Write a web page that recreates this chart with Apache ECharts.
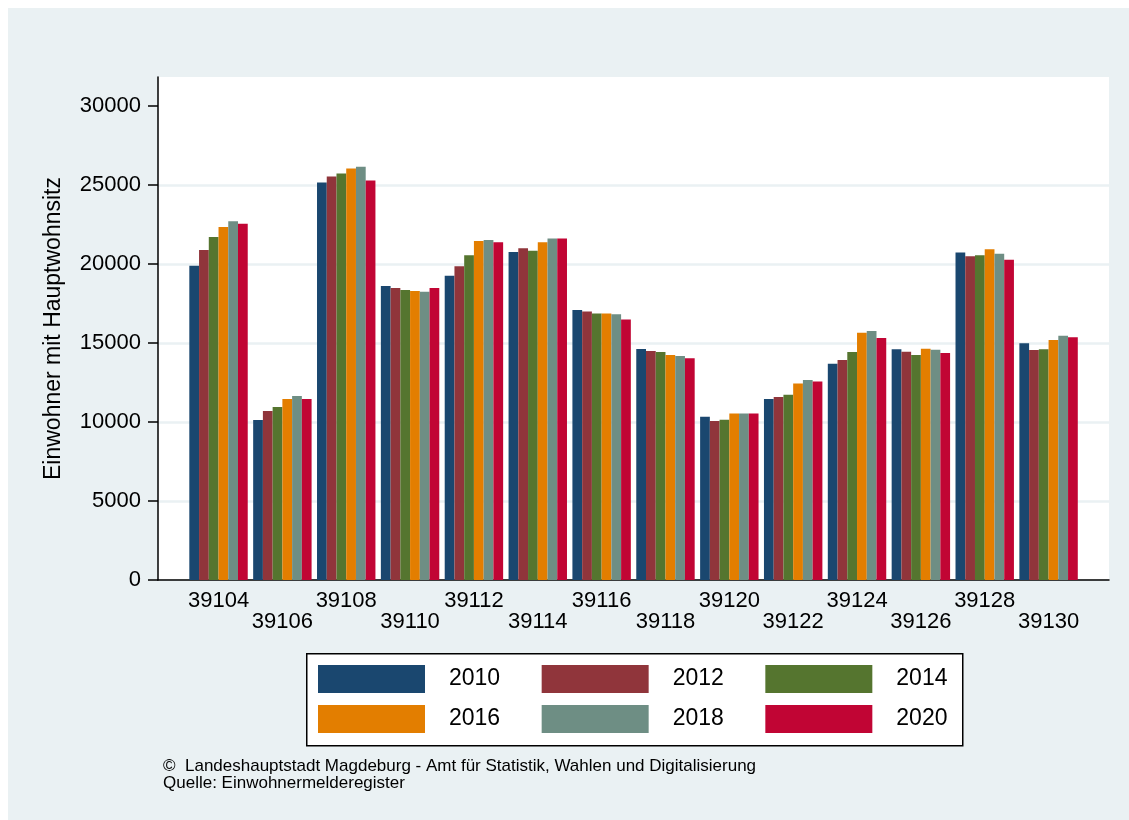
<!DOCTYPE html>
<html>
<head>
<meta charset="utf-8">
<script src="https://cdn.jsdelivr.net/npm/echarts@6/dist/echarts.min.js"></script>
<style>
  html, body { margin: 0; padding: 0; background: #fff; }
  #chart { width: 1129px; height: 820px; }
</style>
</head>
<body>
<div id="chart"></div>
<script>
// Postleitzahlen
const plz = ['39104', '39106', '39108', '39110', '39112', '39114', '39116',
  '39118', '39120', '39122', '39124', '39126', '39128', '39130']
const years = ['2010', '2012', '2014', '2016', '2018', '2020']
const yTicks = [0, 5000, 10000, 15000, 20000, 25000, 30000]

// Einwohner je Jahr
const v2010 = [19890, 10130, 25150, 18610, 19260, 20760, 17090, 14620, 10340, 11460, 13690, 14600, 20720, 14980]
const v2012 = [20890, 10700, 25530, 18480, 19850, 20990, 17000, 14490, 10060, 11580, 13920, 14450, 20490, 14560]
const v2014 = [21710, 10950, 25720, 18350, 20550, 20840, 16860, 14430, 10150, 11730, 14430, 14240, 20550, 14600]
const v2016 = [22340, 11460, 26040, 18290, 21460, 21370, 16860, 14240, 10530, 12430, 15650, 14640, 20930, 15190]
const v2018 = [22700, 11650, 26160, 18250, 21520, 21620, 16815, 14180, 10530, 12660, 15760, 14580, 20650, 15460]
const v2020 = [22550, 11460, 25280, 18480, 21370, 21620, 16480, 14030, 10530, 12570, 15320, 14370, 20270, 15360]

const values = [v2010, v2012, v2014, v2016, v2018, v2020]
const colors = ['#1a476f', '#90353b', '#55752f', '#e37e00', '#6e8e84', '#c10534']

const font = 'Liberation Sans, Arial, sans-serif'
// plot area goes a bit above 30000
const yMax = 31835

const legendBase = {
  left: 318,
  padding: 0,
  orient: 'horizontal',
  icon: 'rect',
  itemWidth: 107,
  itemHeight: 28,
  itemGap: 41.5,
  selectedMode: false,
  textStyle: { fontFamily: font, fontSize: 23, color: '#000', width: 53, padding: [0, 0, 0, 19] }
}

const option = {
  animation: false,
  color: colors,
  graphic: [
    { type: 'rect', left: 8, top: 8, z: -10, shape: { width: 1121, height: 812 }, style: { fill: '#eaf1f3' } },
    { type: 'rect', left: 306, top: 653, z: 1, shape: { width: 656, height: 92 }, style: { fill: '#fff', stroke: '#000', lineWidth: 1.5 } },
    {
      type: 'text', left: 163, top: 758, z: 1,
      style: {
        text: '©  Landeshauptstadt Magdeburg - Amt für Statistik, Wahlen und Digitalisierung\nQuelle: Einwohnermelderegister',
        font: '17px ' + font, fill: '#000', lineHeight: 17
      }
    }
  ],
  legend: [
    Object.assign({}, legendBase, { top: 665, data: years.slice(0, 3) }),
    Object.assign({}, legendBase, { top: 705, data: years.slice(3) })
  ],
  grid: [
    { left: 158, right: 20, top: 77, bottom: 240, show: true, backgroundColor: '#fff', borderWidth: 0 },
    { left: 186.6, right: 48.5, top: 77, bottom: 240 }
  ],
  xAxis: [
    {
      gridIndex: 0, type: 'value', min: 0, max: 1,
      axisLine: { show: true, onZero: false, lineStyle: { color: '#000', width: 1.5 } },
      axisTick: { show: false }, axisLabel: { show: false }, splitLine: { show: false }
    },
    {
      gridIndex: 1, type: 'category', data: plz,
      axisLine: { show: false }, axisTick: { show: false },
      axisLabel: {
        interval: 0, margin: 10, color: '#000', fontFamily: font, fontSize: 22, lineHeight: 21,
        formatter: function (value, index) {
          return index % 2 ? '\n' + value : value
        }
      }
    }
  ],
  yAxis: [
    {
      gridIndex: 0, type: 'value', min: 0, max: yMax, interval: 5000,
      name: 'Einwohner mit Hauptwohnsitz', nameLocation: 'middle', nameGap: 93,
      nameTextStyle: { fontFamily: font, fontSize: 23, color: '#000' },
      axisLine: { show: true, lineStyle: { color: '#000', width: 1.5 } },
      axisTick: { show: true, length: 10, customValues: yTicks, lineStyle: { color: '#000', width: 1.5 } },
      axisLabel: {
        margin: 17, color: '#000', fontFamily: font, fontSize: 22, customValues: yTicks,
        formatter: function (v) { return yTicks.indexOf(v) >= 0 ? String(v) : '' }
      },
      splitLine: { show: true, showMaxLine: false, lineStyle: { color: '#eaf1f3', width: 2.5 } }
    },
    { gridIndex: 1, type: 'value', min: 0, max: yMax, show: false }
  ],
  series: years.map(function (y, i) {
    return {
      name: y,
      type: 'bar',
      xAxisIndex: 1,
      yAxisIndex: 1,
      data: values[i],
      barGap: '0%',
      barCategoryGap: '8.5%',
      itemStyle: { color: colors[i] }
    }
  })
}

const myChart = echarts.init(document.getElementById('chart'))
myChart.setOption(option)
</script>
</body>
</html>
